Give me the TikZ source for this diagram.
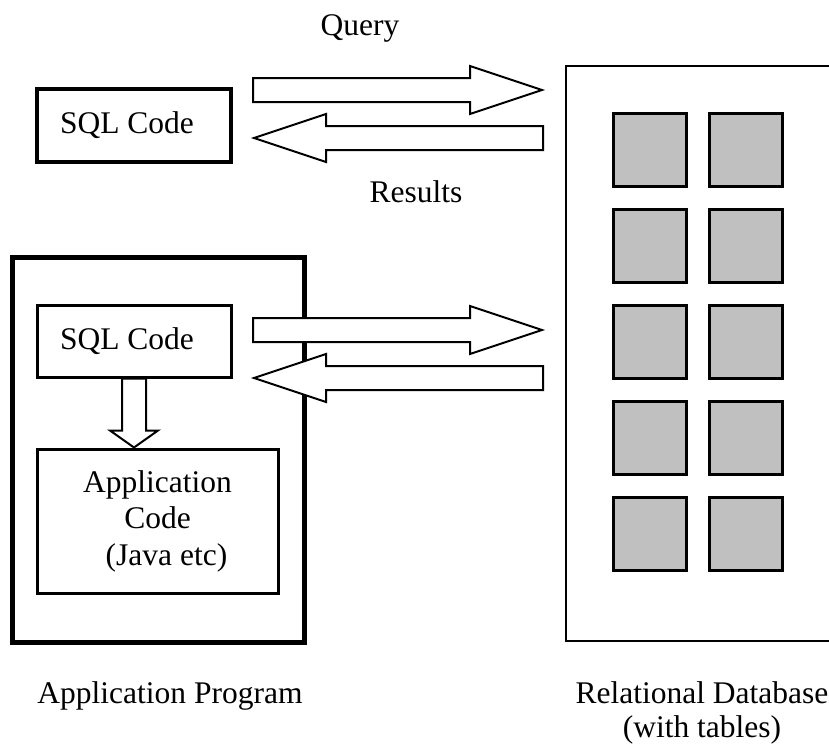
\documentclass[tikz,border=0pt]{standalone}
\usepackage{fontspec}
\setmainfont{Liberation Serif}
\usetikzlibrary{calc,positioning}
\definecolor{ink}{HTML}{000000}
\definecolor{tablefill}{HTML}{C0C0C0}
\newcommand{\labelsize}{\fontsize{31.5}{36.5}\selectfont}
\tikzset{
 every node/.append style={font=\labelsize,text=ink,align=center},
 box/.style={draw=ink,fill=white,line width=3.5pt,inner sep=0pt},
 program/.style={box,line width=5pt},
 store/.style={draw=ink,line width=2.2pt,inner sep=0pt},
 tablecell/.style={draw=ink,fill=tablefill,line width=3pt,minimum width=73,minimum height=73,inner sep=0pt},
 caption/.style={anchor=base,inner sep=0pt},
 fat/.style={draw=ink,fill=white,line width=2pt,line join=miter},
}
% block arrow from tail #2 to tip #3, head length #1
\newcommand{\fatarrow}[3][72]{%
 \coordinate (hb) at ($(#3)!#1pt!(#2)$);
 \draw[fat] ($(#2)!12pt!90:(#3)$) -- ($(hb)!12pt!90:(#3)$) -- ($(hb)!24pt!90:(#3)$) -- (#3)
  -- ($(hb)!24pt!-90:(#3)$) -- ($(hb)!12pt!-90:(#3)$) -- ($(#2)!12pt!-90:(#3)$) -- cycle;}
\begin{document}
\begin{tikzpicture}[x=1pt,y=-1pt]

\useasboundingbox (0,0) rectangle (829,748);
% database with tables
\node[store,minimum width=266,minimum height=575] (db) at (699,353.5) {};
\foreach \r in {0,...,4}{
 \node[tablecell] (ta\r) at (649.5,149.5+96*\r) {};
 \node[tablecell] (tb\r) at (745.5,149.5+96*\r) {};
}
% stand-alone SQL
\node[box,minimum width=194,minimum height=73] (sqltop) at (134,125.5) {SQL Code\hspace*{14pt}};
% application program
\node[program,minimum width=292,minimum height=385] (prog) at (158,449.5) {};
\node[box,line width=3pt,minimum width=194,minimum height=72] (sqlin) at (134,341) {SQL Code\hspace*{14pt}};
\node[box,line width=3pt,minimum width=241,minimum height=144] (app) at (157.5,521) {Application\\Code\\\hspace*{18pt}(Java etc)};
\coordinate (dtip) at (sqlin.south |- app.north);
\fatarrow[17]{sqlin.south}{dtip}
% query / results arrows
\coordinate (q0) at (253,90); \coordinate (q1) at (542,90);
\coordinate (r0) at (543,138); \coordinate (r1) at (254,138);
\coordinate (p0) at (253,330); \coordinate (p1) at (542,330);
\coordinate (s0) at (543,378); \coordinate (s1) at (254,378);
\fatarrow{q0}{q1} \fatarrow{r0}{r1}
\fatarrow{p0}{p1} \fatarrow{s0}{s1}
\node[caption] (query) at (360,35) {Query};
\node[caption] (results) at (416,202) {Results};
% captions
\node[caption] (progname) at (170,703) {Application Program};
\node[caption] (dbname) at (702,703) {Relational Database};
\node[caption] (dbnote) at (702,737) {(with tables)};
\end{tikzpicture}
\end{document}
